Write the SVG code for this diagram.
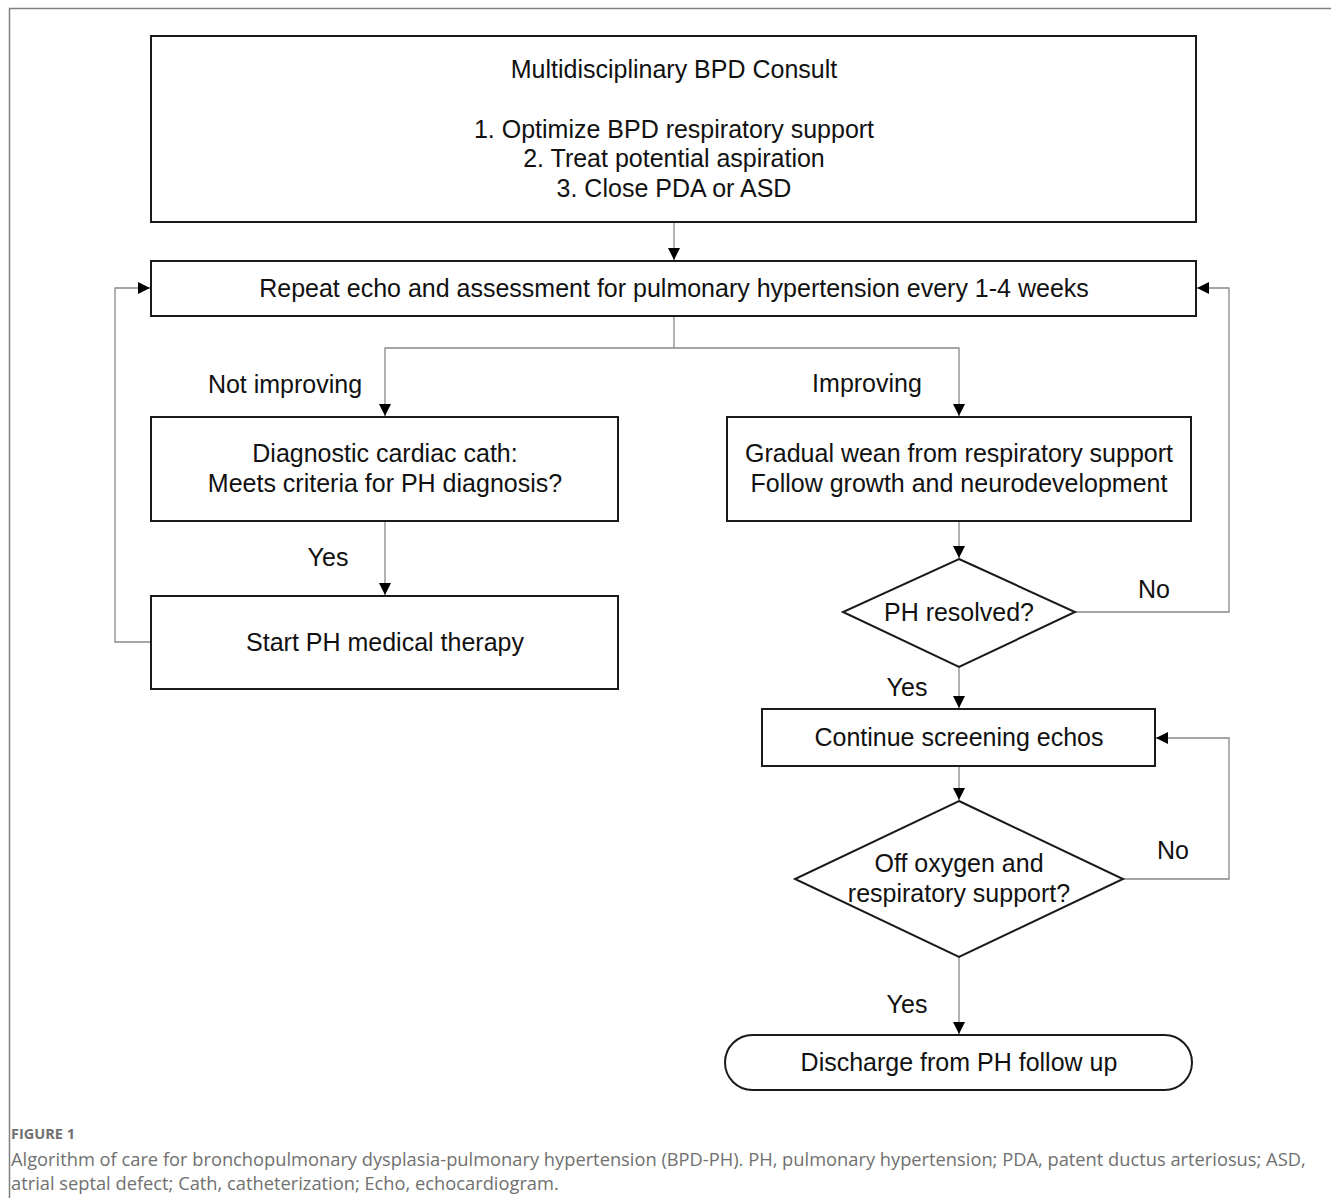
<svg xmlns="http://www.w3.org/2000/svg" width="1331" height="1198" viewBox="0 0 1331 1198">
<style>
.box{fill:#fff;stroke:#1a1a1a;stroke-width:2}
.t{font-family:"Liberation Sans",Arial,sans-serif;font-size:25px;fill:#111;text-anchor:middle}
.lbl{font-family:"Liberation Sans",Arial,sans-serif;font-size:25px;fill:#111;text-anchor:middle}
.c{fill:none;stroke:#888;stroke-width:1.3}
.cap{font-family:"Open Sans","Liberation Sans",sans-serif;fill:#707070}
</style>
<defs>
<marker id="ah" markerWidth="12" markerHeight="12" refX="10" refY="5" orient="auto" markerUnits="userSpaceOnUse" viewBox="0 0 10 10">
<path d="M0,0 L10,5 L0,10 z" fill="#000"/>
</marker>
</defs>
<rect width="1331" height="1198" fill="#fff"/>
<path d="M9.5,1198 V8.5 H1331" fill="none" stroke="#808080" stroke-width="1.5"/>

<g id="connectors">
<path class="c" d="M674,222 V260" marker-end="url(#ah)"/>
<path class="c" d="M674,316 V348 H385 V416" marker-end="url(#ah)"/>
<path class="c" d="M674,348 H959 V416" marker-end="url(#ah)"/>
<path class="c" d="M385,521 V595" marker-end="url(#ah)"/>
<path class="c" d="M151,642 H115 V288 H150" marker-end="url(#ah)"/>
<path class="c" d="M959,521 V558" marker-end="url(#ah)"/>
<path class="c" d="M1075,612 H1229 V288 H1197" marker-end="url(#ah)"/>
<path class="c" d="M959,667 V708" marker-end="url(#ah)"/>
<path class="c" d="M959,766 V800" marker-end="url(#ah)"/>
<path class="c" d="M1123,879 H1229 V738 H1156" marker-end="url(#ah)"/>
<path class="c" d="M959,957 V1034" marker-end="url(#ah)"/>
<text class="lbl" x="285" y="393">Not improving</text>
<text class="lbl" x="867" y="392">Improving</text>
<text class="lbl" x="328" y="566">Yes</text>
<text class="lbl" x="1154" y="598">No</text>
<text class="lbl" x="907" y="696">Yes</text>
<text class="lbl" x="1173" y="859">No</text>
<text class="lbl" x="907" y="1013">Yes</text>
</g>

<g id="consult">
<rect class="box" x="151" y="36" width="1045" height="186"/>
<text class="t" x="674" y="78">Multidisciplinary BPD Consult</text>
<text class="t" x="674" y="138">1. Optimize BPD respiratory support</text>
<text class="t" x="674" y="167">2. Treat potential aspiration</text>
<text class="t" x="674" y="197">3. Close PDA or ASD</text>
</g>
<g id="repeat">
<rect class="box" x="151" y="261" width="1045" height="55"/>
<text class="t" x="674" y="297">Repeat echo and assessment for pulmonary hypertension every 1-4 weeks</text>
</g>
<g id="cath">
<rect class="box" x="151" y="417" width="467" height="104"/>
<text class="t" x="385" y="462">Diagnostic cardiac cath:</text>
<text class="t" x="385" y="492">Meets criteria for PH diagnosis?</text>
</g>
<g id="therapy">
<rect class="box" x="151" y="596" width="467" height="93"/>
<text class="t" x="385" y="651">Start PH medical therapy</text>
</g>
<g id="wean">
<rect class="box" x="727" y="417" width="464" height="104"/>
<text class="t" x="959" y="462">Gradual wean from respiratory support</text>
<text class="t" x="959" y="492">Follow growth and neurodevelopment</text>
</g>
<g id="resolved">
<polygon class="box" points="959,559 1075,612 959,667 843,612"/>
<text class="t" x="959" y="621">PH resolved?</text>
</g>
<g id="screening">
<rect class="box" x="762" y="709" width="393" height="57"/>
<text class="t" x="959" y="746">Continue screening echos</text>
</g>
<g id="offoxygen">
<polygon class="box" points="959,801 1123,879 959,957 795,879"/>
<text class="t" x="959" y="872">Off oxygen and</text>
<text class="t" x="959" y="902">respiratory support?</text>
</g>
<g id="discharge">
<rect class="box" x="725" y="1035" width="467" height="55" rx="27.5" ry="27.5"/>
<text class="t" x="959" y="1071">Discharge from PH follow up</text>
</g>

<g id="caption">
<text class="cap" x="11" y="1139" font-size="14.5" font-weight="bold">FIGURE 1</text>
<text class="cap" x="11" y="1166" font-size="18.3">Algorithm of care for bronchopulmonary dysplasia-pulmonary hypertension (BPD-PH). PH, pulmonary hypertension; PDA, patent ductus arteriosus; ASD,</text>
<text class="cap" x="11" y="1190" font-size="18.3">atrial septal defect; Cath, catheterization; Echo, echocardiogram.</text>
</g>
</svg>
